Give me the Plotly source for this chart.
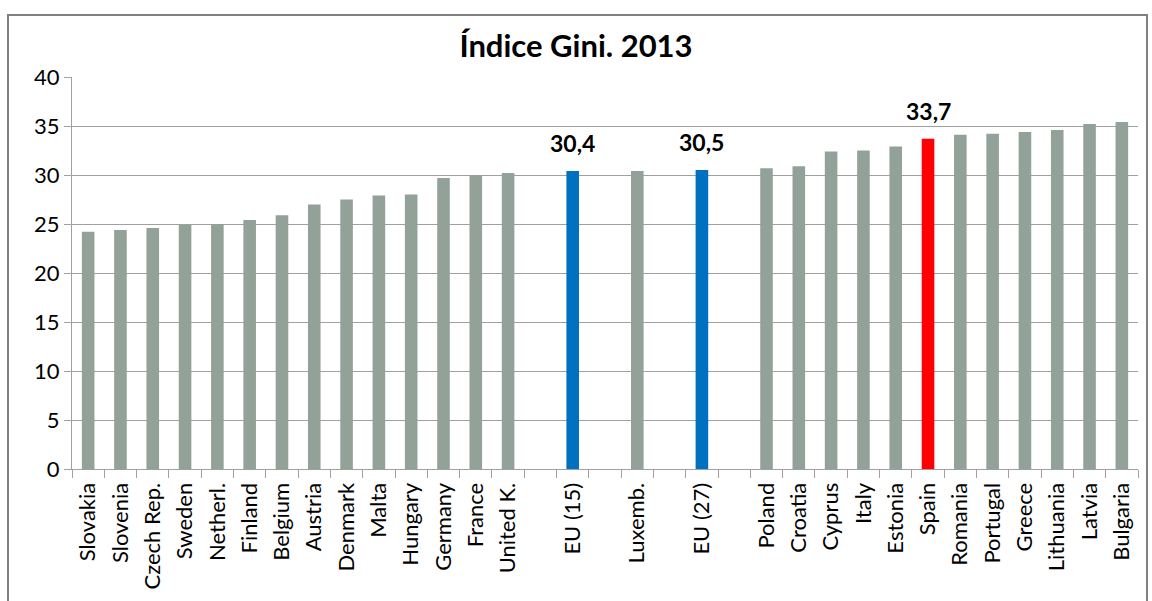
import plotly.graph_objects as go

categories = ["Slovakia", "Slovenia", "Czech Rep.", "Sweden", "Netherl.", "Finland", "Belgium",
              "Austria", "Denmark", "Malta", "Hungary", "Germany", "France", "United K.", " ",
              "EU (15)", "  ", "Luxemb.", "   ", "EU (27)", "    ", "Poland", "Croatia", "Cyprus",
              "Italy", "Estonia", "Spain", "Romania", "Portugal", "Greece", "Lithuania", "Latvia",
              "Bulgaria"]
values = [24.2, 24.4, 24.6, 24.9, 25.0, 25.4, 25.9, 27.0, 27.5, 27.9, 28.0, 29.7, 30.0, 30.2, None,
          30.4, None, 30.4, None, 30.5, None, 30.7, 30.9, 32.4, 32.5, 32.9, 33.7, 34.1, 34.2,
          34.4, 34.6, 35.2, 35.4]
highlight = {"EU (15)": "#0070C0", "EU (27)": "#0070C0", "Spain": "#FF0000"}
labelled = ["EU (15)", "EU (27)", "Spain"]
base_color = "#93A299"

FONT = "Lato"
colors = [highlight.get(c, base_color) for c in categories]

fig = go.Figure()
fig.add_trace(go.Bar(x=categories, y=values, marker=dict(color=colors, line=dict(width=0)),
                     width=0.39, hoverinfo="x+y"))

annotations = []
for c, v in zip(categories, values):
    if c in labelled:
        annotations.append(dict(x=c, y=v, text="<b>" + f"{v:.1f}".replace(".", ",") + "</b>",
                                showarrow=False, yanchor="bottom", yshift=12,
                                font=dict(family=FONT, size=23, color="#000000")))

L, R, T, B = 72, 14, 77, 132
W, H = 1152, 601
pw = W - L - R
ph = H - T - B

def px_x(px):
    return (px - L) / pw

def px_y(py):
    return (H - B - py) / ph

fig.update_layout(
    width=W, height=H,
    margin=dict(l=L, r=R, t=T, b=B),
    paper_bgcolor="white", plot_bgcolor="white",
    showlegend=False,
    title=dict(text="<b>Índice Gini. 2013</b>", x=0.5, xanchor="center", y=1 - 46 / H, yanchor="middle",
               font=dict(family=FONT, size=31, color="#000000")),
    font=dict(family=FONT, color="#000000"),
    xaxis=dict(type="category", tickangle=-90, tickfont=dict(family=FONT, size=22, color="#000000"),
               showgrid=False, ticks="outside", tickson="boundaries", ticklen=8, tickcolor="#A0A0A0",
               ticklabelstandoff=4,
               showline=True, linecolor="#A0A0A0", linewidth=1, automargin=False),
    yaxis=dict(range=[0, 40], dtick=5, tickfont=dict(family=FONT, size=22, color="#000000"),
               showgrid=True, gridcolor="#A0A0A0", gridwidth=1, ticks="outside", ticklen=7,
               tickcolor="#A0A0A0", showline=True, linecolor="#A0A0A0", linewidth=1,
               zeroline=False, automargin=False),
    annotations=annotations,
    shapes=[dict(type="rect", xref="paper", yref="paper",
                 x0=px_x(8), x1=px_x(1147), y0=px_y(610), y1=px_y(15),
                 line=dict(color="#808080", width=2), fillcolor="rgba(0,0,0,0)", layer="below")],
)

fig.write_html("out.html", config={"displayModeBar": False},
               post_script="document.body.style.margin='0';document.body.style.overflow='hidden';")
